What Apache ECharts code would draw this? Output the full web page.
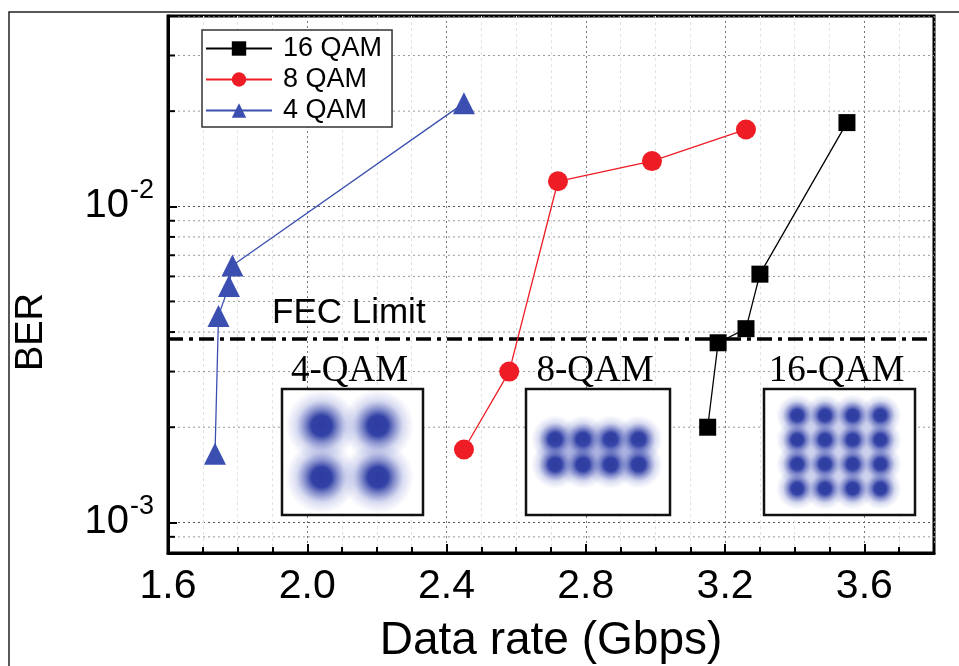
<!DOCTYPE html>
<html>
<head>
<meta charset="utf-8">
<script src="https://cdn.jsdelivr.net/npm/echarts@6/dist/echarts.min.js"></script>
<style>
html,body{margin:0;padding:0;background:#fff;}
#chart{width:959px;height:666px;}
</style>
</head>
<body>
<div id="chart"></div>
<script>
// ---- data ----
const seriesNames = ['16 QAM', '8 QAM', '4 QAM'];
const rate16 = [3.15, 3.18, 3.26, 3.30, 3.55];
const ber16  = [2.0e-3, 3.7e-3, 4.1e-3, 6.1e-3, 1.84e-2];
const rate8  = [2.45, 2.58, 2.72, 2.99, 3.26];
const ber8   = [1.7e-3, 3.0e-3, 1.2e-2, 1.39e-2, 1.75e-2];
const rate4  = [1.735, 1.745, 1.775, 1.785, 2.45];
const ber4   = [1.65e-3, 4.5e-3, 5.6e-3, 6.5e-3, 2.12e-2];
const fecLimit = 3.8e-3;
const fecLabel = 'FEC Limit';
const xTicks = [1.6, 2.0, 2.4, 2.8, 3.2, 3.6];
const yMinorValues = [9e-4, 2e-3, 3e-3, 4e-3, 5e-3, 6e-3, 7e-3, 8e-3, 9e-3, 2e-2, 3e-2];
const insetTitles = ['4-QAM', '8-QAM', '16-QAM'];
const qam4Centers = [[-1, 1], [1, 1], [-1, -1], [1, -1]];
const qam8Centers = [[-3, 1], [-1, 1], [1, 1], [3, 1], [-3, -1], [-1, -1], [1, -1], [3, -1]];
const qam16Centers = [[-3, 3], [-1, 3], [1, 3], [3, 3], [-3, 1], [-1, 1], [1, 1], [3, 1],
                      [-3, -1], [-1, -1], [1, -1], [3, -1], [-3, -3], [-1, -3], [1, -3], [3, -3]];

// ---- layout / style ----
const X_MIN = 1.6, X_MAX = 3.8;
const SANS = '"Liberation Sans", Arial, sans-serif';
const SERIF = '"Liberation Serif", "Times New Roman", serif';
const insetBoxes = [
  {left: 282, top: 389, width: 141, height: 126, xr: [-2.4, 2.6], yr: [-2.46, 2.42], size: 72},
  {left: 526, top: 389, width: 144, height: 126, xr: [-5.1, 5.26], yr: [-5, 5], size: 48},
  {left: 764, top: 389, width: 151, height: 126, xr: [-5.4, 5.5], yr: [-5.17, 5.17], size: 42}
];
const insetData = [qam4Centers, qam8Centers, qam16Centers];

const blobColor = {
  type: 'radial', x: 0.5, y: 0.5, r: 0.5,
  colorStops: [
    {offset: 0, color: 'rgba(46,60,158,1)'},
    {offset: 0.28, color: 'rgba(50,65,165,1)'},
    {offset: 0.45, color: 'rgba(58,73,172,0.65)'},
    {offset: 0.7, color: 'rgba(80,95,190,0.22)'},
    {offset: 1, color: 'rgba(100,110,200,0)'}
  ]
};

const chart = echarts.init(document.getElementById('chart'));

const grids = [{left: 168, top: 16, right: 25, bottom: 113, show: true, borderColor: '#000', borderWidth: 3, z: 0,
  outerBoundsMode: 'none'}];
const xAxes = [{
  type: 'value', gridIndex: 0, min: X_MIN, max: X_MAX, interval: 0.4,
  name: 'Data rate (Gbps)', nameLocation: 'middle', nameGap: 65,
  nameTextStyle: {fontFamily: SANS, fontSize: 46, color: '#000'},
  axisLine: {show: true, onZero: false, lineStyle: {color: '#000', width: 3}},
  axisTick: {show: true, inside: true, length: 9, lineStyle: {color: '#000', width: 2}},
  minorTick: {show: true, splitNumber: 4, length: 6, lineStyle: {color: '#000', width: 2}},
  splitLine: {show: true, lineStyle: {color: '#777', width: 1, type: [2, 3]}},
  minorSplitLine: {show: true, lineStyle: {color: '#e2e2e2', width: 1, type: [3, 3]}},
  axisLabel: {
    fontFamily: SANS, fontSize: 41, color: '#000', margin: 13,
    formatter: v => (xTicks.some(t => Math.abs(t - v) < 1e-6) ? v.toFixed(1) : '')
  }
}];
const yAxes = [{
  type: 'log', logBase: 10, gridIndex: 0, min: 8e-4, max: 0.04,
  axisLine: {show: true, onZero: false, lineStyle: {color: '#000', width: 3}},
  axisTick: {show: true, inside: true, length: 9, lineStyle: {color: '#000', width: 2}},
  splitLine: {show: true, lineStyle: {color: '#555', width: 1, type: [2, 3]}},
  axisLabel: {
    margin: 14, color: '#000',
    formatter: v => {
      const e = Math.round(Math.log10(v));
      if (Math.abs(v - Math.pow(10, e)) / v > 1e-6) return '';
      return '{b|10}{s|' + e + '}';
    },
    rich: {
      b: {fontFamily: SANS, fontSize: 40, lineHeight: 56, color: '#000'},
      s: {fontFamily: SANS, fontSize: 27, padding: [0, 0, 32, 1], color: '#000'}
    }
  }
}];

insetBoxes.forEach((b, i) => {
  grids.push({left: b.left, top: b.top, width: b.width, height: b.height, show: true,
    backgroundColor: '#fff', borderColor: '#111', borderWidth: 2.5, z: 3, outerBoundsMode: 'none'});
  xAxes.push({type: 'value', gridIndex: i + 1, min: b.xr[0], max: b.xr[1], show: false, z: 3});
  yAxes.push({type: 'value', gridIndex: i + 1, min: b.yr[0], max: b.yr[1], show: false, z: 3});
});

const lineSeries = (name, xs, ys, color, symbol, size) => ({
  name, type: 'line', xAxisIndex: 0, yAxisIndex: 0,
  data: xs.map((x, i) => [x, ys[i]]),
  symbol, symbolSize: size,
  lineStyle: {color, width: 1.3},
  itemStyle: {color, borderColor: color, borderWidth: 0},
  z: 6
});

const series = [
  {
    type: 'custom', xAxisIndex: 0, yAxisIndex: 0, silent: true, z: 1,
    data: yMinorValues.map(v => [X_MIN, v]),
    encode: {x: 0, y: 1},
    renderItem: (params, api) => {
      const cs = params.coordSys;
      const y = api.coord([X_MIN, api.value(1)])[1];
      return {type: 'group', children: [
        {type: 'line', shape: {x1: cs.x, y1: y, x2: cs.x + cs.width, y2: y},
         style: {stroke: '#9a9a9a', lineWidth: 1, lineDash: [2, 3]}},
        {type: 'line', shape: {x1: cs.x, y1: y, x2: cs.x + 7, y2: y},
         style: {stroke: '#000', lineWidth: 2}}
      ]};
    }
  },
  {
    name: fecLabel, type: 'line', xAxisIndex: 0, yAxisIndex: 0, silent: true, z: 4,
    data: [[X_MIN, fecLimit], [X_MAX, fecLimit]],
    symbol: 'none',
    lineStyle: {color: '#000', width: 3.5, type: [15, 6, 4, 6]}
  },
  lineSeries(seriesNames[0], rate16, ber16, '#000000', 'rect', 17),
  lineSeries(seriesNames[1], rate8, ber8, '#ee1c24', 'circle', 20),
  lineSeries(seriesNames[2], rate4, ber4, '#3b4fb0', 'triangle', 22)
];

insetBoxes.forEach((b, i) => {
  series.push({
    type: 'scatter', xAxisIndex: i + 1, yAxisIndex: i + 1, silent: true, z: 5,
    data: insetData[i], symbol: 'circle', symbolSize: b.size,
    itemStyle: {color: blobColor, opacity: 1}
  });
});

const graphics = [
  {type: 'polyline', silent: true, z: 0, shape: {points: [[9, 666], [9, 12], [959, 12]]},
   style: {stroke: '#222', lineWidth: 1.5, fill: null}},
  {type: 'text', x: 32, y: 332, rotation: Math.PI / 2, silent: true,
   style: {text: 'BER', font: '38px ' + SANS, fill: '#000', textAlign: 'center', textVerticalAlign: 'middle'}}
];
insetBoxes.forEach((b, i) => {
  graphics.push({type: 'text', x: b.left + b.width / 2 - 3, y: b.top - 18, silent: true, z: 10,
    style: {text: insetTitles[i], font: '37px ' + SERIF, fill: '#000', textAlign: 'center', textVerticalAlign: 'middle'}});
});

chart.setOption({
  animation: false,
  backgroundColor: '#fff',
  grid: grids,
  xAxis: xAxes,
  yAxis: yAxes,
  legend: {
    data: seriesNames, orient: 'vertical', left: 202, top: 30,
    itemWidth: 66, itemHeight: 18, itemGap: 4,
    padding: [5, 10, 3, 3],
    borderColor: '#333', borderWidth: 1.5, backgroundColor: '#fff',
    textStyle: {fontFamily: SANS, fontSize: 27, color: '#000', padding: [0, 0, 0, 6]},
    z: 8
  },
  graphic: graphics,
  series
});

// "FEC Limit" text placed from the axis scale
const fecPt = chart.convertToPixel({gridIndex: 0}, [X_MIN, fecLimit]);
graphics.push({type: 'text', x: fecPt[0] + 104, y: fecPt[1] - 8, silent: true, z: 10,
  style: {text: fecLabel, font: '35px ' + SANS, fill: '#000', textAlign: 'left', textVerticalAlign: 'bottom'}});
chart.setOption({graphic: graphics});
</script>
</body>
</html>
